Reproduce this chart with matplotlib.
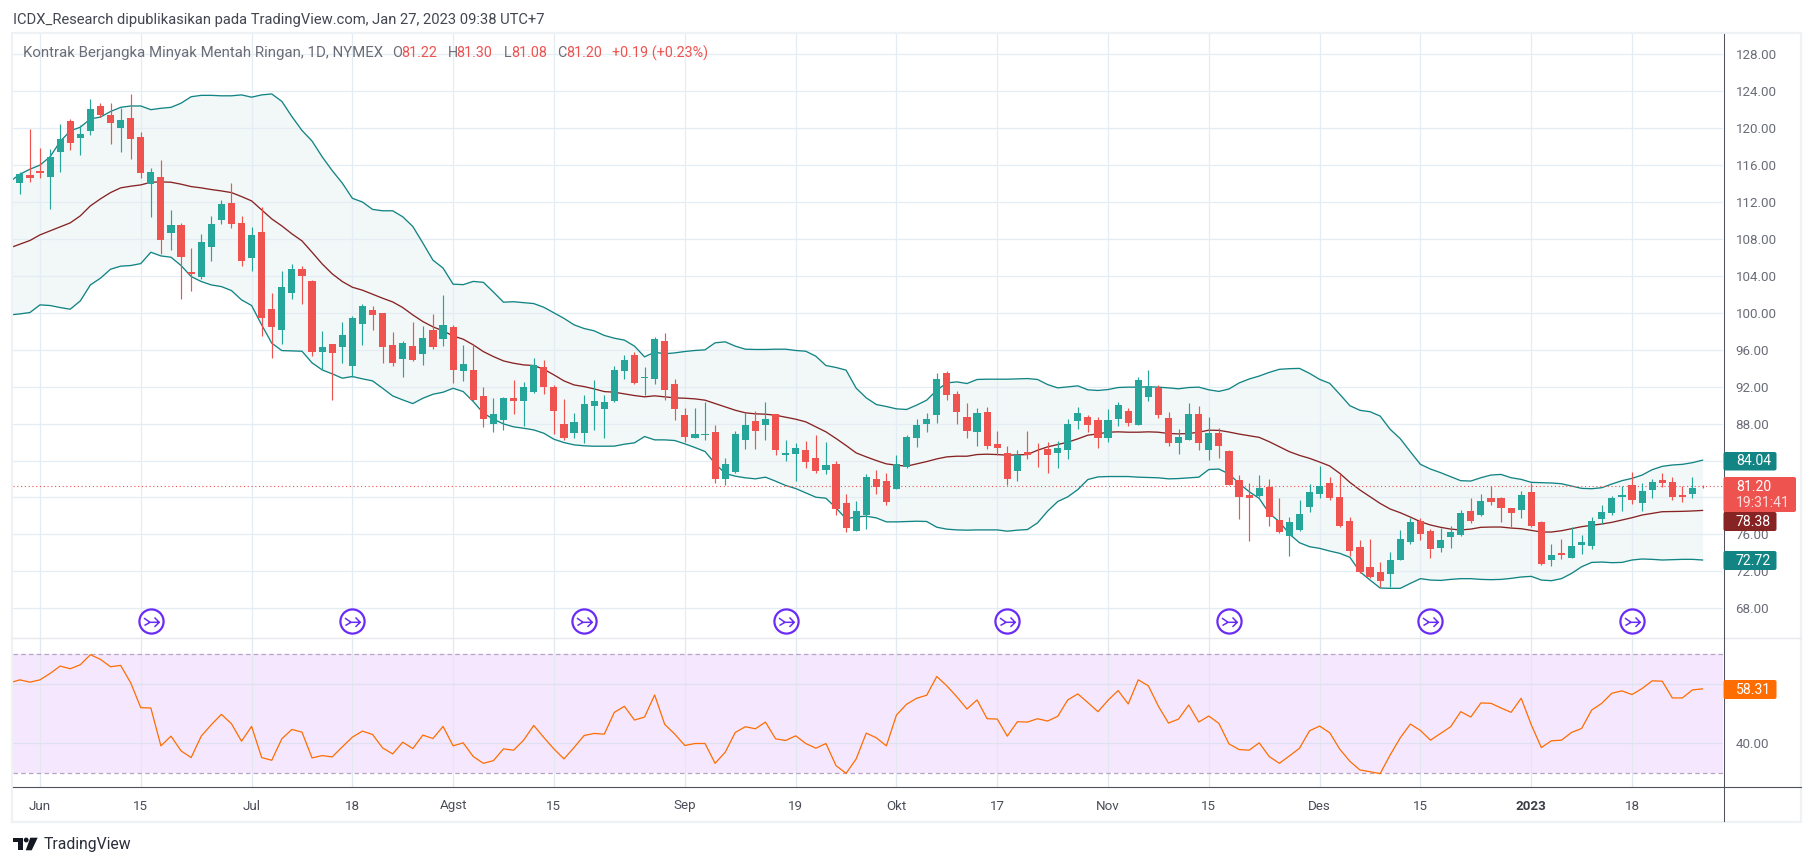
import numpy as np
import matplotlib
matplotlib.use("Agg")
import matplotlib.pyplot as plt
from matplotlib.path import Path
from matplotlib.patches import FancyBboxPatch, Polygon, Circle, Rectangle

plt.rcParams['font.family'] = ['Roboto', 'DejaVu Sans']

W, H = 1813, 866

# ---- data (first entry of every list is the bar cut off by the left edge) ----
first_bar = -1
opens = [110.6,
 114.11,114.90,115.33,114.76,117.46,120.79,118.98,119.74,122.41,121.44,
 120.03,121.11,119.05,113.96,114.72,108.66,109.52,104.43,103.89,107.14,
 110.06,111.91,109.74,105.95,108.76,100.42,98.15,102.16,104.76,103.46,
 95.77,96.63,96.31,94.25,98.80,100.32,100.0,96.53,95.01,96.42,
 95.55,98.15,97.18,98.48,93.71,93.82,91.0,87.97,88.40,90.79,
 90.46,91.44,94.14,91.98,87.97,87.0,87.0,89.92,89.63,90.50,
 93.75,95.38,92.99,92.88,97.0,92.34,88.88,86.49,86.82,87.04,
 81.95,82.81,86.28,88.23,87.90,88.99,84.65,84.76,85.09,84.33,
 83.03,83.68,79.35,76.42,78.05,82.05,81.84,80.97,83.25,86.39,
 88.01,88.88,93.53,91.26,88.77,87.04,89.31,85.74,84.87,82.92,
 84.98,85.19,85.30,84.87,85.09,88.23,88.77,88.44,86.39,88.55,
 89.42,87.90,90.93,91.91,88.66,85.85,86.28,89.09,85.14,86.98,
 85.03,81.89,80.27,80.16,81.13,77.56,75.83,76.48,78.97,80.38,
 81.57,80.05,77.45,74.63,72.47,71.93,71.71,73.23,75.18,77.45,
 76.37,74.53,75.72,75.93,78.53,78.10,79.94,79.94,78.86,78.64,
 80.59,77.34,73.23,73.99,73.44,74.85,74.74,77.67,78.32,80.05,
 81.35,79.40,80.81,81.89,81.67,80.27,80.38,81.22]
highs = [114.6,
 115.26,119.92,117.86,117.75,120.46,121.0,120.35,123.17,122.73,122.73,
 122.19,123.71,119.59,115.70,116.56,111.15,109.70,107.03,108.55,110.50,
 112.23,114.07,110.50,109.31,111.47,102.16,104.54,105.30,105.08,103.57,
 98.04,96.63,99.02,99.67,100.97,100.75,100.0,97.93,96.96,99.02,
 98.58,99.88,101.94,98.69,96.53,96.63,91.98,90.79,90.89,92.74,
 92.52,95.12,94.90,92.19,90.68,89.16,91.11,92.74,91.15,94.29,
 95.48,95.81,94.08,97.43,97.76,92.78,89.74,89.74,90.39,87.90,
 84.33,87.25,89.17,89.42,90.29,89.09,86.28,85.95,86.17,86.82,
 86.06,84.0,80.43,79.57,82.49,83.03,82.70,84.65,86.8,88.55,
 89.20,93.43,93.75,91.48,90.18,89.74,89.85,87.25,85.63,85.09,
 87.25,85.95,86.06,86.17,88.55,89.85,88.88,88.77,89.53,90.39,
 89.74,93.0,93.86,92.23,89.31,87.47,90.18,89.96,88.71,87.52,
 85.1,82.43,81.53,82.43,82.0,79.94,77.88,79.73,81.46,83.41,
 82.22,82.54,77.88,75.39,75.50,73.01,74.09,76.48,77.78,77.78,
 76.58,76.69,76.91,78.64,79.94,80.38,81.24,80.0,78.9,80.70,
 81.57,77.45,74.96,75.50,76.80,75.93,77.88,79.18,80.16,81.24,
 82.76,81.57,82.0,82.65,82.22,81.24,82.22,81.30]
lows = [110.6,
 112.88,114.22,114.65,111.26,115.26,117.65,117.10,119.27,121.2,118.29,
 117.43,116.67,114.65,110.39,106.38,106.81,101.51,102.37,103.67,105.62,
 109.63,109.20,105.08,104.54,97.50,95.12,96.63,101.51,100.97,95.34,
 93.93,90.57,94.58,93.02,96.53,98.15,94.58,94.25,93.06,94.79,
 94.36,96.09,96.42,92.41,92.63,90.4,87.65,87.10,87.32,89.05,
 87.76,91.33,91.22,86.89,86.2,86.4,85.9,87.32,86.39,90.3,
 92.88,92.34,91.15,92.34,90.61,88.34,86.06,86.4,86.28,81.62,
 81.30,82.7,85.30,85.20,86.28,84.65,84.0,81.84,83.14,82.60,
 82.49,78.15,76.31,76.35,76.64,80.43,79.24,80.9,83.2,85.52,
 87.14,88.12,90.61,88.01,86.39,85.63,85.30,84.65,81.40,81.84,
 84.22,83.25,82.70,83.14,84.22,87.47,87.14,85.41,86.06,87.79,
 87.69,87.85,90.50,88.66,85.63,84.76,86.2,85.19,84.06,84.27,
 81.3,77.67,75.28,80.1,76.91,76.2,73.66,76.37,78.43,79.94,
 79.73,76.80,73.66,71.8,71.28,70.30,70.30,73.2,74.96,75.39,
 73.44,74.09,74.53,75.83,77.23,77.99,79.18,77.34,76.80,77.78,
 76.85,72.7,72.58,73.34,73.4,73.88,74.42,77.13,78.10,78.53,
 79.29,78.53,79.94,81.13,79.73,79.51,79.94,81.08]
closes = [114.2,
 115.05,114.65,115.19,116.89,118.84,118.44,119.38,122.09,121.44,120.57,
 120.89,118.87,115.15,115.26,107.90,109.52,106.06,104.22,107.68,109.63,
 111.80,109.63,105.62,108.44,99.45,98.48,102.81,104.76,104.0,95.77,
 96.31,95.66,97.61,99.45,100.75,99.77,96.31,94.58,96.74,94.90,
 97.28,96.31,98.69,93.82,94.47,90.57,88.51,89.05,90.79,90.46,
 91.98,94.36,91.98,89.38,86.45,88.19,90.14,90.46,90.39,93.86,
 94.94,92.45,93.10,97.11,91.6,89.53,86.60,86.93,86.93,81.95,
 83.68,86.93,87.90,87.25,88.55,85.09,84.87,85.41,83.89,82.88,
 83.57,78.70,76.75,78.59,82.27,81.19,79.46,83.68,86.6,87.90,
 88.55,92.78,91.15,89.31,87.25,89.20,85.63,85.41,82.05,84.65,
 84.55,85.09,84.55,85.41,88.01,89.20,87.90,86.49,88.44,90.07,
 88.12,92.67,92.02,88.88,85.85,86.60,89.09,85.85,86.98,85.57,
 81.35,80.05,79.94,81.02,77.88,76.26,77.34,78.21,80.59,81.24,
 79.94,76.91,74.20,71.93,71.39,70.95,73.23,75.50,77.34,76.04,
 74.42,75.39,76.26,78.32,77.45,79.62,79.51,78.86,78.32,80.27,
 76.91,72.79,73.77,73.77,74.74,75.18,77.45,78.43,79.94,80.27,
 79.72,80.70,81.67,81.57,80.05,80.05,81.02,81.20]
bb_upper = [114.2,
 115.0,115.55,116.0,116.9,118.55,119.7,120.1,121.0,121.2,121.8,
 122.25,122.4,122.4,122.0,122.15,122.25,122.7,123.4,123.55,123.55,
 123.5,123.5,123.6,123.35,123.6,123.7,122.9,121.25,119.75,118.6,
 116.9,115.4,114.05,112.4,112.0,111.2,111.05,111.05,110.4,109.35,
 107.55,105.7,104.85,103.1,103.05,103.4,103.3,102.25,101.15,101.2,
 101.1,101.0,100.6,100.0,99.4,98.7,98.3,98.05,97.55,97.25,
 97.04,96.39,95.23,95.74,95.56,95.66,95.81,95.92,95.99,96.75,
 96.86,96.39,96.06,96.03,96.03,96.06,96.06,95.92,95.84,95.30,
 94.29,94.08,93.79,91.84,90.79,90.07,89.85,89.60,89.53,90.0,
 90.54,91.62,92.41,92.52,92.34,92.78,92.81,92.81,92.81,92.85,
 92.88,92.78,92.23,91.87,91.98,92.09,91.66,91.59,91.69,91.91,
 91.95,91.95,91.98,91.95,91.87,91.77,91.91,91.95,91.66,91.49,
 91.75,92.40,92.83,93.15,93.55,93.88,93.95,93.98,93.44,92.79,
 92.36,91.17,89.94,89.44,89.29,88.82,87.38,86.37,84.96,83.59,
 83.08,82.69,82.25,81.82,81.78,82.14,82.43,82.50,82.14,81.96,
 81.64,81.60,81.57,81.49,81.24,80.99,80.95,81.06,81.46,81.82,
 82.07,82.43,83.01,83.37,83.52,83.59,83.77,84.04]
bb_basis = [107.03,
 107.43,107.83,108.44,108.87,109.31,109.74,110.50,111.58,112.34,113.02,
 113.53,113.71,113.85,114.14,114.18,114.14,113.93,113.67,113.53,113.35,
 113.2,113.02,112.59,112.12,111.15,110.17,109.41,108.55,107.79,106.56,
 105.30,104.22,103.39,102.77,102.45,102.01,101.58,101.18,100.57,99.77,
 99.05,98.48,98.04,97.50,97.14,96.53,95.80,95.26,94.79,94.54,
 94.36,94.29,93.89,93.28,92.63,92.19,92.01,91.76,91.47,91.40,
 91.22,91.04,90.90,91.01,90.90,90.79,90.75,90.68,90.54,90.18,
 89.82,89.45,89.17,89.06,89.02,88.91,88.70,88.48,88.19,87.65,
 87.11,86.39,85.63,84.83,84.40,84.0,83.64,83.50,83.39,83.64,
 83.89,84.18,84.40,84.47,84.47,84.65,84.69,84.65,84.58,84.62,
 84.65,85.12,85.48,85.74,85.99,86.35,86.75,86.89,87.07,87.11,
 87.07,87.07,87.11,87.07,86.93,86.89,86.93,87.07,87.29,87.27,
 87.09,86.87,86.69,86.51,86.04,85.50,84.96,84.56,84.24,83.84,
 83.41,82.61,81.64,80.81,80.09,79.36,78.75,78.35,77.88,77.38,
 77.02,76.77,76.58,76.48,76.58,76.77,76.80,76.80,76.69,76.62,
 76.44,76.26,76.26,76.40,76.62,76.84,76.98,77.13,77.31,77.56,
 77.81,78.10,78.28,78.46,78.48,78.50,78.54,78.6]
bb_lower = [99.77,
 99.88,100.03,100.86,100.79,100.57,100.39,101.29,103.02,103.75,104.72,
 105.05,105.12,105.33,106.56,106.16,106.02,105.12,103.93,103.39,103.02,
 102.84,102.41,101.40,100.79,98.69,96.71,95.91,95.88,95.84,94.58,
 93.82,93.39,92.92,93.10,92.85,92.63,91.83,91.0,90.57,90.17,
 90.75,91.18,91.40,91.83,91.47,90.39,89.13,88.48,87.97,87.65,
 87.50,87.32,86.96,86.31,85.95,85.7,85.6,85.55,85.56,85.56,
 85.77,85.92,86.60,86.24,86.24,86.17,85.81,85.41,84.98,83.68,
 82.60,82.31,82.13,82.02,82.20,81.77,81.30,80.97,80.50,80.03,
 79.92,78.88,77.68,77.90,77.97,77.79,77.36,77.36,77.40,77.43,
 77.40,76.78,76.57,76.49,76.46,76.49,76.49,76.49,76.35,76.46,
 76.53,77.25,78.52,79.56,80.07,80.86,81.95,82.23,82.27,82.27,
 82.27,82.20,82.16,82.13,82.02,82.05,82.13,82.20,83.03,83.08,
 82.54,81.53,80.63,79.90,78.28,77.38,76.04,75.10,74.67,74.49,
 74.20,73.95,73.52,71.96,71.06,70.20,70.16,70.16,70.70,71.21,
 71.06,71.02,71.13,71.21,71.21,71.13,71.10,71.13,71.24,71.39,
 71.46,71.06,70.99,71.21,71.78,72.50,72.97,73.01,72.94,72.97,
 73.23,73.34,73.30,73.23,73.26,73.30,73.30,73.23]
rsi = [60.33,
 61.34,60.56,61.34,63.48,65.95,65.05,66.40,69.77,68.20,65.72,
 66.18,60.33,52.01,51.90,39.20,42.46,37.51,35.27,42.46,46.28,
 49.76,46.62,40.77,45.72,35.27,34.37,41.56,44.71,43.81,35.15,
 35.94,35.49,38.86,42.12,44.14,43.02,38.52,36.50,40.43,38.30,
 42.80,41.67,45.72,39.20,40.21,35.60,33.35,34.25,38.19,37.74,
 41.11,46.05,42.01,38.19,34.82,38.64,42.68,43.36,43.13,50.44,
 52.46,47.85,48.87,56.28,46.39,43.13,39.31,39.99,39.99,33.35,
 37.06,43.70,45.61,44.93,47.18,41.56,41.0,42.57,39.99,38.41,
 39.99,32.57,29.98,34.82,43.47,41.90,39.20,49.54,53.14,55.16,
 56.17,62.47,59.32,55.61,51.56,54.60,48.30,48.19,42.46,47.29,
 47.18,48.30,47.52,49.09,54.60,56.62,53.70,50.66,54.49,57.74,
 53.25,61.34,59.32,52.46,46.84,48.19,52.91,47.18,49.20,46.73,
 39.87,37.96,37.74,40.21,35.60,33.35,35.83,38.41,44.26,45.83,
 43.58,38.07,34.03,31.11,30.54,29.87,36.16,41.90,46.50,44.37,
 41.11,43.36,45.61,50.66,48.87,53.59,53.47,51.90,50.44,55.16,
 46.28,38.64,40.89,41.11,43.70,45.04,51.22,53.47,56.85,57.63,
 56.40,58.42,61.0,60.89,55.27,55.27,57.97,58.31]

x_tick_bars = [2, 12, 23, 33, 43, 53, 66, 77, 87, 97, 108, 118, 129, 139, 150, 160]
x_tick_labels = ['Jun', '15', 'Jul', '18', 'Agst', '15', 'Sep', '19', 'Okt', '17',
                 'Nov', '15', 'Des', '15', '2023', '18']
price_ticks = list(range(68, 129, 4))
rsi_ticks = [40, 60]
icon_bars = [13, 33, 56, 76, 98, 120, 140, 160]
icon_price = 66.62
last_price = 81.20

# ---- colours ----
UP, DOWN = '#26a69a', '#ef5350'
TEAL, MAROON, ORANGE, PURPLE = '#138484', '#872323', '#ff6d00', '#6a2cf5'
GRID, FRAME, AXIS = '#e4edf4', '#eff2f5', '#50535e'
TXT = '#6a6d78'

# ---- layout helpers (pixel box -> figure fraction) ----
L, R = 13, 1723.5
def box(left, top, right, bottom):
    return [left / W, 1 - bottom / H, (right - left) / W, (bottom - top) / H]

fig = plt.figure(figsize=(W / 100, H / 100), dpi=100, facecolor='white')
ax = fig.add_axes(box(L, 34, R, 638))
ax_r = fig.add_axes(box(L, 638, R, 787), sharex=ax)

x = np.arange(first_bar, first_bar + len(closes))
o, h, l, c = map(np.array, (opens, highs, lows, closes))
cols = np.where(c >= o, UP, DOWN)

# ---- main pane ----
ax.fill_between(x, bb_lower, bb_upper, color=TEAL, alpha=0.05, lw=0, zorder=1)
ax.plot(x, bb_upper, color=TEAL, lw=0.95, zorder=2)
ax.plot(x, bb_lower, color=TEAL, lw=0.95, zorder=2)
ax.plot(x, bb_basis, color=MAROON, lw=0.95, zorder=2)
ax.axhline(last_price, color=DOWN, lw=0.8, ls=(0, (1, 2.4)), zorder=2.5)
ax.vlines(x, l, h, colors=cols, lw=0.85, zorder=3)
ax.bar(x, np.abs(c - o), bottom=np.minimum(o, c), width=0.71, color=cols, lw=0, zorder=3.1)

arrow = Path([(-7.5, 3.4), (-1.5, -0.8), (7.7, -0.8), (3.0, 4.0), (7.7, -0.8), (3.0, -5.4),
              (-7.0, -4.0), (-1.5, -0.8)],
             [Path.MOVETO, Path.LINETO, Path.LINETO, Path.MOVETO, Path.LINETO, Path.LINETO,
              Path.MOVETO, Path.LINETO])
ix = np.array(icon_bars)
iy = np.full(len(ix), icon_price)
ax.plot(ix, iy, ls='', marker='o', ms=17.4, mfc='white', mec=PURPLE, mew=1.6, zorder=5, clip_on=False)
ax.plot(ix, iy, ls='', marker=arrow, ms=11.1, mfc='none', mec=PURPLE, mew=1.1, zorder=6, clip_on=False)

ax.set_xlim((L - 19.85) / 10.076, (R - 19.85) / 10.076)
ax.set_ylim(68 + (608.3 - 638) / 9.234, 68 + (608.3 - 34) / 9.234)
ax.yaxis.tick_right()
ax.set_yticks(price_ticks)
ax.set_yticklabels([f'{v:.2f}' for v in price_ticks])
ax.tick_params(axis='y', length=0, pad=8.6, labelsize=9.6, labelcolor=TXT)
ax.tick_params(axis='x', length=0, labelbottom=False)
ax.set_xticks(x_tick_bars)
ax.grid(True, color=GRID, lw=0.9)

# ---- RSI pane ----
ax_r.axhspan(30, 70, color='#f5e8fe', lw=0, zorder=1)
for lev in (30, 70):
    ax_r.axhline(lev, color='#b7a4c5', lw=0.9, ls=(0, (3.6, 2.6)), zorder=1.8)
ax_r.plot(x, rsi, color=ORANGE, lw=0.9, zorder=3)
ax_r.set_ylim(30 - 13.7 / 2.9825, 70 + 16 / 2.9825)
ax_r.yaxis.tick_right()
ax_r.set_yticks(rsi_ticks)
ax_r.set_yticklabels([f'{v:.2f}' for v in rsi_ticks])
ax_r.tick_params(axis='y', length=0, pad=8.6, labelsize=9.6, labelcolor=TXT)
ax_r.set_xticks(x_tick_bars)
ax_r.set_xticklabels(x_tick_labels)
ax_r.tick_params(axis='x', length=0, pad=9, labelsize=9.6, labelcolor='#4a4d58')
for t, s in zip(ax_r.get_xticklabels(), x_tick_labels):
    if s == '2023':
        t.set_fontweight('bold')
        t.set_color('#3a3d46')
ax_r.grid(True, color='#dfe0f0', lw=0.9)
ax_r.grid(True, axis='x', color='#e3e7f0', lw=0.9)

for a in (ax, ax_r):
    for s in a.spines.values():
        s.set_visible(False)

# ---- overlay in pixel coordinates: frame, labels, header, logo ----
ov = fig.add_axes([0, 0, 1, 1], facecolor='none')
ov.set_xlim(0, W)
ov.set_ylim(H, 0)
ov.axis('off')

ov.add_patch(Rectangle((12, 33), 1789, 788.5, fill=False, ec=FRAME, lw=1.6))
ov.plot([L, 1801], [638, 638], color='#e6e8ee', lw=1.0)
ov.plot([L, 1801], [787, 787], color=AXIS, lw=0.8)
ov.plot([R, R], [34, 821], color=AXIS, lw=0.75)

def tag(top, bottom, right, color):
    ov.add_patch(FancyBboxPatch((R + 1, top + 1), right - R - 2, bottom - top - 2,
                                boxstyle='round,pad=1,rounding_size=2', fc=color, ec='none', zorder=5))

tag(452, 470.5, 1776.5, TEAL)
tag(551, 570, 1776.5, TEAL)
tag(477, 512, 1796, DOWN)
tag(512, 531, 1776.5, MAROON)
tag(680, 699, 1776.5, ORANGE)
for yy, s, col in [(461, '84.04', 'white'), (487.3, '81.20', 'white'), (503, '19:31:41', '#fcdcdb'),
                   (521.5, '78.38', 'white'), (561, '72.72', 'white'), (690, '58.31', 'white')]:
    ov.text(1736, yy, s, color=col, fontsize=10.1, va='center', ha='left', zorder=6)

ov.text(13, 20, 'ICDX_Research dipublikasikan pada TradingView.com, Jan 27, 2023 09:38 UTC+7',
        color='#434651', fontsize=10.65, va='center', ha='left')
ov.text(23, 53, 'Kontrak Berjangka Minyak Mentah Ringan, 1D, NYMEX',
        color=TXT, fontsize=10.8, va='center', ha='left')
for px, s, col in [(392, 'O', TXT), (401, '81.22', DOWN), (448, 'H', TXT), (456, '81.30', DOWN),
                   (504, 'L', TXT), (511, '81.08', DOWN), (557, 'C', TXT), (566, '81.20', DOWN),
                   (612, '+0.19 (+0.23%)', DOWN)]:
    ov.text(px, 53, s, color=col, fontsize=10.4, va='center', ha='left')

INK = '#131722'
ov.add_patch(Polygon([(13, 837.7), (23.3, 837.7), (23.3, 850.3), (17.7, 850.3), (17.7, 841.7), (13, 841.7)],
                     closed=True, fc=INK, ec='none'))
ov.add_patch(Circle((26.2, 840), 2.4, fc=INK, ec='none'))
ov.add_patch(Polygon([(30.3, 837.7), (37.7, 837.7), (31.7, 850.3), (25.7, 850.3)], closed=True, fc=INK, ec='none'))
ov.text(43.3, 844.5, 'TradingView', color='#2a2e39', fontsize=11.3, va='center', ha='left')

fig.savefig('out.png', dpi=100, facecolor='white')
